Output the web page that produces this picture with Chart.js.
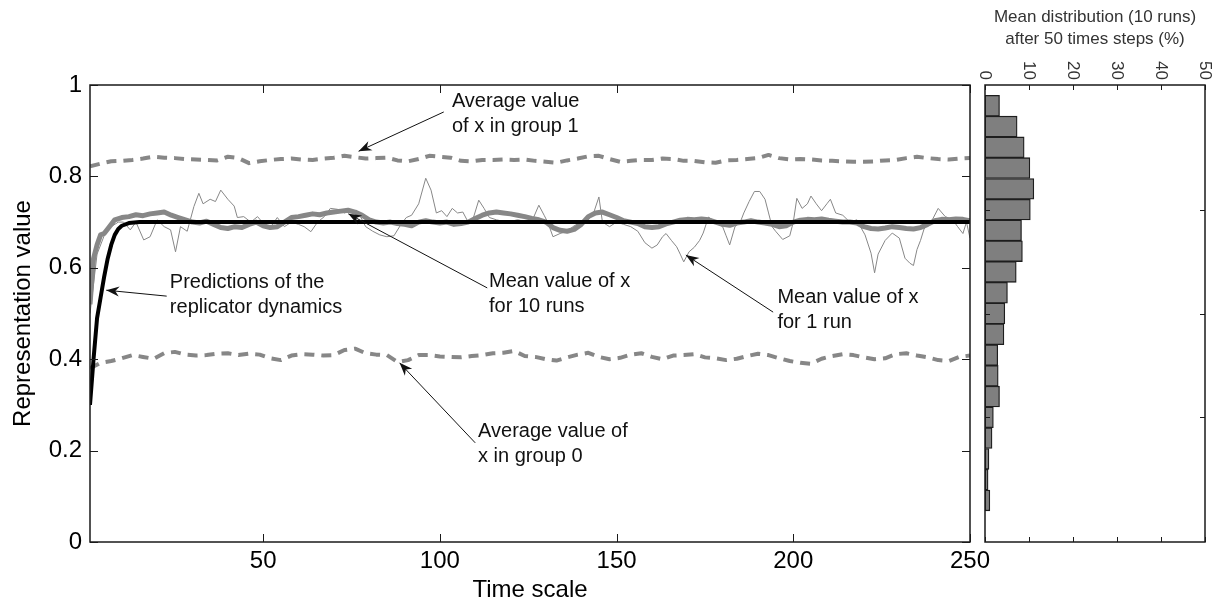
<!DOCTYPE html>
<html>
<head>
<meta charset="utf-8">
<title>Representation value over time</title>
<style>
    html, body {
        margin: 0;
        padding: 0;
        background: #fff;
    }
    #wrap {
        position: relative;
        width: 1230px;
        height: 605px;
    }
    #main-chart, #hist-chart {
        position: absolute;
        top: 0;
    }
    #main-chart { left: 0; }
    #hist-chart { left: 975px; }
</style>
</head>
<body>
<div id="wrap">
    <canvas id="main-chart" width="1230" height="605"></canvas>
    <canvas id="hist-chart" width="255" height="605"></canvas>
</div>

<script src="https://cdn.jsdelivr.net/npm/chart.js"></script>
<script>
// ---- data ----

// replicator dynamics prediction (black)
const repTimes = [1, 2, 3, 4, 5, 6, 7, 8, 9, 10, 12, 15, 250];
const replicator = [0.30, 0.40, 0.49, 0.535, 0.58, 0.62, 0.65, 0.672, 0.685, 0.692, 0.698, 0.70, 0.70];

// mean value of x over 10 runs (thick grey)
const meanTimes = [1, 2, 3, 4, 5, 6, 8, 10, 12, 14, 16, 18, 20, 22, 24, 26, 28, 30, 32, 34, 36, 38, 40, 42, 44, 46, 48,
    50, 52, 54, 56, 58, 60, 62, 64, 66, 68, 70, 72, 74, 76, 78, 80, 82, 84, 86, 88, 90, 92, 94, 96, 98,
    100, 102, 104, 106, 108, 110, 112, 114, 116, 118, 120, 122, 124, 126, 128, 130, 132, 134, 136, 138, 140, 142, 144, 146, 148,
    150, 152, 154, 156, 158, 160, 162, 164, 166, 168, 170, 172, 174, 176, 178, 180, 182, 184, 186, 188, 190, 192, 194, 196, 198,
    200, 202, 204, 206, 208, 210, 212, 214, 216, 218, 220, 222, 224, 226, 228, 230, 232, 234, 236, 238, 240, 242, 244, 246, 248, 250];
const mean10 = [0.52, 0.62, 0.65, 0.672, 0.675, 0.685, 0.705, 0.71, 0.712, 0.716, 0.714, 0.718, 0.72, 0.722, 0.715, 0.71, 0.705, 0.70, 0.698, 0.702, 0.695, 0.688, 0.686, 0.69, 0.688, 0.695, 0.70,
    0.692, 0.688, 0.69, 0.70, 0.71, 0.712, 0.715, 0.718, 0.716, 0.72, 0.722, 0.724, 0.726, 0.722, 0.715, 0.705, 0.70, 0.698, 0.70, 0.697, 0.695, 0.692, 0.70, 0.703, 0.70,
    0.698, 0.70, 0.695, 0.697, 0.70, 0.708, 0.715, 0.72, 0.722, 0.72, 0.718, 0.715, 0.712, 0.708, 0.705, 0.70, 0.688, 0.682, 0.68, 0.684, 0.695, 0.712, 0.72, 0.722, 0.716,
    0.71, 0.703, 0.70, 0.697, 0.69, 0.688, 0.69, 0.696, 0.70, 0.704, 0.706, 0.705, 0.707, 0.705, 0.70, 0.695, 0.693, 0.698, 0.70, 0.703, 0.70, 0.698, 0.695, 0.69, 0.692,
    0.70, 0.704, 0.706, 0.705, 0.707, 0.704, 0.702, 0.70, 0.70, 0.698, 0.69, 0.686, 0.685, 0.687, 0.69, 0.688, 0.686, 0.685, 0.688, 0.695, 0.703, 0.706, 0.705, 0.707, 0.706, 0.703];

// mean value of x for a single run (thin grey)
const runTimes = [1, 3, 5, 7, 9, 10.5, 12.4, 14, 16.2, 18, 20, 22, 23.8, 25.2, 26.6, 28.5, 30.4, 31.8, 33, 35, 36.5, 38, 40, 41.8, 42.7,
    44.5, 46.5, 48.4, 50.3, 52.2, 54, 56, 58, 60, 61.6, 63.5, 65.4, 67.3, 69, 71, 73, 75, 77, 79, 81, 83, 85, 87, 89, 90.5,
    92, 94, 96, 97.5, 99, 100.5, 102, 103.5, 105, 106.5, 108, 109.5, 111, 112.5, 114, 116, 119, 122, 125, 126.5, 128, 129.5, 130.5,
    132, 134, 136, 138, 140, 142, 143.5, 145, 146, 148, 150, 152, 154, 156, 158, 160, 161.5, 163, 164, 165.5, 167, 168, 169, 170.5,
    172, 173.5, 174.5, 176, 178, 180, 181, 182, 183.5, 185, 186, 187.5, 189, 190.5, 192, 193, 194, 195, 197, 199, 200, 201, 202.5,
    204, 205, 206.5, 208, 209.5, 210.5, 212, 214, 216, 218, 219, 220.3, 222, 223, 224, 226, 228, 230, 231.6, 233, 234, 235, 236,
    237, 239, 241, 243, 245, 246.5, 248, 249, 250];
const run1 = [0.50, 0.63, 0.67, 0.69, 0.70, 0.70, 0.683, 0.70, 0.661, 0.668, 0.705, 0.69, 0.683, 0.635, 0.69, 0.68, 0.734, 0.763, 0.74, 0.75, 0.745, 0.77, 0.75, 0.735, 0.71,
    0.712, 0.70, 0.712, 0.695, 0.69, 0.71, 0.69, 0.70, 0.695, 0.69, 0.679, 0.70, 0.712, 0.73, 0.728, 0.72, 0.725, 0.72, 0.69, 0.68, 0.672, 0.668, 0.67, 0.695, 0.71,
    0.715, 0.74, 0.796, 0.77, 0.72, 0.725, 0.712, 0.73, 0.72, 0.722, 0.70, 0.71, 0.748, 0.73, 0.71, 0.705, 0.70, 0.705, 0.70, 0.71, 0.737, 0.715, 0.70,
    0.668, 0.675, 0.68, 0.692, 0.70, 0.705, 0.72, 0.755, 0.70, 0.69, 0.70, 0.695, 0.69, 0.68, 0.655, 0.643, 0.65, 0.668, 0.675, 0.66, 0.646, 0.63, 0.613, 0.635,
    0.645, 0.66, 0.676, 0.711, 0.70, 0.69, 0.67, 0.65, 0.69, 0.70, 0.72, 0.745, 0.767, 0.767, 0.75, 0.72, 0.69, 0.68, 0.662, 0.67, 0.70, 0.752, 0.73,
    0.74, 0.757, 0.74, 0.725, 0.74, 0.75, 0.72, 0.715, 0.70, 0.705, 0.69, 0.672, 0.632, 0.589, 0.63, 0.66, 0.676, 0.665, 0.621, 0.61, 0.605, 0.64, 0.66,
    0.685, 0.70, 0.73, 0.712, 0.706, 0.69, 0.675, 0.70, 0.665];

// average value of x in group 1 and group 0 (dashed grey), every 3 steps
const groupTimes = [1, 4, 7, 10, 13, 16, 19, 22, 25, 28, 31, 34, 37, 40, 43, 46, 49, 52, 55, 58,
    61, 64, 67, 70, 73, 76, 79, 82, 85, 88, 91, 94, 97, 100, 103, 106, 109, 112, 115, 118,
    121, 124, 127, 130, 133, 136, 139, 142, 145, 148, 151, 154, 157, 160, 163, 166, 169, 172, 175, 178,
    181, 184, 187, 190, 193, 196, 199, 202, 205, 208, 211, 214, 217, 220, 223, 226, 229, 232, 235, 238,
    241, 244, 247, 250];
const group1 = [0.822, 0.828, 0.833, 0.834, 0.836, 0.839, 0.843, 0.841, 0.840, 0.838,
    0.837, 0.836, 0.835, 0.843, 0.840, 0.829, 0.833, 0.836, 0.838, 0.839,
    0.837, 0.836, 0.839, 0.841, 0.845, 0.842, 0.839, 0.840, 0.841, 0.835,
    0.833, 0.838, 0.845, 0.843, 0.841, 0.834, 0.833, 0.836, 0.836, 0.837,
    0.836, 0.837, 0.834, 0.832, 0.830, 0.835, 0.839, 0.844, 0.845, 0.838,
    0.832, 0.834, 0.836, 0.836, 0.839, 0.838, 0.834, 0.834, 0.831, 0.830,
    0.835, 0.836, 0.838, 0.840, 0.847, 0.840, 0.837, 0.838, 0.837, 0.835,
    0.834, 0.833, 0.832, 0.832, 0.833, 0.835, 0.836, 0.840, 0.843, 0.840,
    0.838, 0.837, 0.839, 0.840];
const group0 = [0.380, 0.392, 0.396, 0.402, 0.409, 0.405, 0.401, 0.413, 0.416, 0.410,
    0.408, 0.409, 0.412, 0.413, 0.409, 0.412, 0.410, 0.402, 0.398, 0.408,
    0.411, 0.410, 0.408, 0.409, 0.420, 0.423, 0.413, 0.410, 0.409, 0.394,
    0.398, 0.409, 0.409, 0.406, 0.405, 0.404, 0.407, 0.409, 0.413, 0.414,
    0.418, 0.407, 0.405, 0.400, 0.397, 0.404, 0.410, 0.414, 0.405, 0.400,
    0.403, 0.410, 0.413, 0.405, 0.400, 0.408, 0.409, 0.411, 0.404, 0.402,
    0.398, 0.401, 0.407, 0.412, 0.409, 0.402, 0.396, 0.392, 0.390, 0.401,
    0.407, 0.411, 0.409, 0.404, 0.400, 0.402, 0.411, 0.413, 0.408, 0.404,
    0.398, 0.396, 0.405, 0.408];

const xTicks = [50, 100, 150, 200, 250];
const yTicks = [0, 0.2, 0.4, 0.6, 0.8, 1];

// histogram: bin centres (representation value) and share of runs (%)
const binCentres = [1.00, 0.95, 0.90, 0.85, 0.80, 0.75, 0.70, 0.65, 0.60, 0.55,
    0.50, 0.45, 0.40, 0.35, 0.30, 0.25, 0.20, 0.15, 0.10, 0.05];
const binShare = [3.3, 7.3, 8.9, 10.2, 11.1, 10.3, 8.3, 8.5, 7.1, 5.1,
    4.5, 4.3, 2.9, 3.0, 3.3, 1.9, 1.6, 0.9, 0.7, 1.1];
const histXTicks = [0, 10, 20, 30, 40, 50];
const histYTicks = [0.25, 0.5, 0.75];

// arrow notes, in data coordinates
const notes = [
    { lines: ['Average value', 'of x in group 1'], at: [103.4, 0.963], from: [101.1, 0.941], to: [77, 0.855] },
    { lines: ['Predictions of the', 'replicator dynamics'], at: [23.6, 0.567], from: [22.7, 0.538], to: [5.6, 0.551] },
    { lines: ['Mean value of x', 'for 10 runs'], at: [113.9, 0.569], from: [113.4, 0.556], to: [74.1, 0.718] },
    { lines: ['Mean value of x', 'for 1 run'], at: [195.5, 0.534], from: [194.3, 0.503], to: [169.6, 0.628] },
    { lines: ['Average value of', 'x in group 0'], at: [110.8, 0.241], from: [110, 0.217], to: [88.6, 0.392] }
];

const FONT = 'Arial, "Liberation Sans", sans-serif';

function pts(times, values) {
    return times.map((t, i) => ({ x: t, y: values[i] }));
}

function arrowHead(ctx, x0, y0, x1, y1) {
    const ang = Math.atan2(y1 - y0, x1 - x0);
    ctx.save();
    ctx.translate(x1, y1);
    ctx.rotate(ang);
    ctx.beginPath();
    ctx.moveTo(0, 0);
    ctx.lineTo(-13, -5);
    ctx.lineTo(-9, 0);
    ctx.lineTo(-13, 5);
    ctx.closePath();
    ctx.fill();
    ctx.restore();
}

// box round the plot with inward ticks on all four sides (matlab style)
const frameTicks = {
    id: 'frameTicks',
    afterDraw(chart, args, opts) {
        const { ctx, chartArea: a, scales } = chart;
        const len = opts.len;
        ctx.save();
        ctx.strokeStyle = '#1a1a1a';
        ctx.lineWidth = 1;
        ctx.beginPath();
        opts.xTicks.forEach(v => {
            const px = Math.round(scales.x.getPixelForValue(v)) + 0.5;
            ctx.moveTo(px, a.bottom); ctx.lineTo(px, a.bottom - len);
            ctx.moveTo(px, a.top); ctx.lineTo(px, a.top + len);
        });
        opts.yTicks.forEach(v => {
            const py = Math.round(scales.y.getPixelForValue(v)) + 0.5;
            ctx.moveTo(a.left, py); ctx.lineTo(a.left + len, py);
            ctx.moveTo(a.right, py); ctx.lineTo(a.right - len, py);
        });
        ctx.stroke();
        ctx.lineWidth = 1.5;
        ctx.strokeRect(a.left, a.top, a.right - a.left, a.bottom - a.top);

        if (opts.topLabels) {
            // tick labels over the histogram read top to bottom
            ctx.fillStyle = '#333';
            ctx.font = '17px ' + FONT;
            ctx.textAlign = 'right';
            ctx.textBaseline = 'middle';
            opts.xTicks.forEach(v => {
                ctx.save();
                ctx.translate(scales.x.getPixelForValue(v), a.top - 5);
                ctx.rotate(Math.PI / 2);
                ctx.fillText(String(v), 0, 0);
                ctx.restore();
            });
        }
        ctx.restore();
    }
};

const arrowNotes = {
    id: 'arrowNotes',
    afterDatasetsDraw(chart, args, opts) {
        const { ctx, scales: { x, y } } = chart;
        ctx.save();
        ctx.fillStyle = '#111';
        ctx.strokeStyle = '#111';
        ctx.lineWidth = 1;
        ctx.font = '20px ' + FONT;
        ctx.textAlign = 'left';
        ctx.textBaseline = 'middle';
        opts.notes.forEach(n => {
            const fx = x.getPixelForValue(n.from[0]), fy = y.getPixelForValue(n.from[1]);
            const tx = x.getPixelForValue(n.to[0]), ty = y.getPixelForValue(n.to[1]);
            ctx.beginPath();
            ctx.moveTo(fx, fy);
            ctx.lineTo(tx, ty);
            ctx.stroke();
            arrowHead(ctx, fx, fy, tx, ty);
            const lx = x.getPixelForValue(n.at[0]), ly = y.getPixelForValue(n.at[1]);
            n.lines.forEach((s, i) => ctx.fillText(s, lx, ly + i * 25));
        });
        ctx.restore();
    }
};

// main time chart
function createMainChart() {
    const ctx = document.getElementById('main-chart').getContext('2d');
    const grey = '#878787';
    new Chart(ctx, {
        type: 'line',
        data: {
            datasets: [
                { label: 'Replicator dynamics', data: pts(repTimes, replicator), borderColor: '#000', borderWidth: 4 },
                { label: 'Mean value of x for 10 runs', data: pts(meanTimes, mean10), borderColor: grey, borderWidth: 5 },
                { label: 'Mean value of x for 1 run', data: pts(runTimes, run1), borderColor: grey, borderWidth: 1 },
                { label: 'Average value of x in group 1', data: pts(groupTimes, group1), borderColor: grey, borderWidth: 4, borderDash: [10, 7] },
                { label: 'Average value of x in group 0', data: pts(groupTimes, group0), borderColor: grey, borderWidth: 4, borderDash: [10, 7] }
            ]
        },
        options: {
            responsive: false,
            animation: false,
            devicePixelRatio: 1,
            elements: {
                point: { radius: 0 },
                line: { tension: 0, borderJoinStyle: 'round', fill: false }
            },
            layout: { padding: { top: 85, right: 260, bottom: 0, left: 0 } },
            plugins: {
                legend: { display: false },
                tooltip: { enabled: false },
                frameTicks: { xTicks: xTicks, yTicks: yTicks, len: 8 },
                arrowNotes: { notes: notes }
            },
            scales: {
                x: {
                    type: 'linear',
                    min: 1,
                    max: 250,
                    grid: { display: false, drawTicks: false },
                    border: { display: false },
                    afterBuildTicks: s => { s.ticks = xTicks.map(v => ({ value: v })); },
                    afterFit: s => { s.height = 63; s.paddingLeft = 0; s.paddingRight = 0; },
                    ticks: { color: '#000', font: { family: FONT, size: 24 }, padding: 5, maxRotation: 0 },
                    title: { display: true, text: 'Time scale', color: '#000', font: { family: FONT, size: 24 }, padding: { top: 0, bottom: 0 } }
                },
                y: {
                    type: 'linear',
                    min: 0,
                    max: 1,
                    grid: { display: false, drawTicks: false },
                    border: { display: false },
                    afterBuildTicks: s => { s.ticks = yTicks.map(v => ({ value: v })); },
                    afterFit: s => { s.width = 90; s.paddingTop = 0; s.paddingBottom = 0; },
                    ticks: { color: '#000', font: { family: FONT, size: 24 }, padding: 8, callback: v => String(v) },
                    title: { display: true, text: 'Representation value', color: '#000', font: { family: FONT, size: 24 }, padding: { top: 9, bottom: 0 } }
                }
            }
        },
        plugins: [frameTicks, arrowNotes]
    });
}

// histogram of the final distribution, bars laid horizontally
function createHistChart() {
    const ctx = document.getElementById('hist-chart').getContext('2d');
    new Chart(ctx, {
        type: 'bar',
        data: {
            datasets: [{
                label: 'Mean distribution',
                data: binCentres.map((c, i) => ({ x: binShare[i], y: c })),
                backgroundColor: '#7f7f7f',
                borderColor: '#1e1e1e',
                borderWidth: 1.3,
                borderSkipped: false,
                barPercentage: 1,
                categoryPercentage: 1,
                clip: 0
            }]
        },
        options: {
            indexAxis: 'y',
            responsive: false,
            animation: false,
            devicePixelRatio: 1,
            layout: { padding: { top: 0, right: 25, bottom: 63, left: 0 } },
            plugins: {
                legend: { display: false },
                tooltip: { enabled: false },
                frameTicks: { xTicks: histXTicks, yTicks: histYTicks, len: 5, topLabels: true }
            },
            scales: {
                x: {
                    type: 'linear',
                    position: 'top',
                    min: 0,
                    max: 50,
                    grid: { display: false, drawTicks: false },
                    border: { display: false },
                    ticks: { display: false },
                    afterFit: s => { s.height = 85; s.paddingLeft = 0; s.paddingRight = 0; },
                    title: {
                        display: true,
                        text: ['Mean distribution (10 runs)', 'after 50 times steps (%)'],
                        color: '#333',
                        font: { family: FONT, size: 17, lineHeight: 1.25 },
                        padding: { top: 7, bottom: 0 }
                    }
                },
                y: {
                    type: 'linear',
                    min: 0,
                    max: 1,
                    grid: { display: false, drawTicks: false },
                    border: { display: false },
                    ticks: { display: false },
                    afterFit: s => { s.width = 10; s.paddingTop = 0; s.paddingBottom = 0; }
                }
            }
        },
        plugins: [frameTicks]
    });
}

createMainChart();
createHistChart();
</script>
</body>
</html>
